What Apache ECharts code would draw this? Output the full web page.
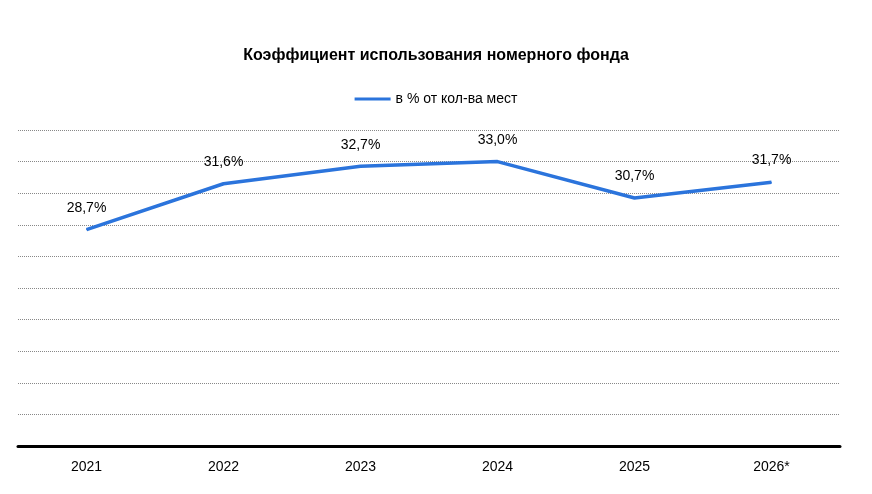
<!DOCTYPE html>
<html>
<head>
<meta charset="utf-8">
<script src="https://cdn.jsdelivr.net/npm/echarts@6/dist/echarts.min.js"></script>
<style>html,body{margin:0;padding:0;background:#fff}#main{width:872px;height:494px}</style>
</head>
<body>
<div id="main"></div>
<script>
var categories = ['2021', '2022', '2023', '2024', '2025', '2026*'];
var occupancy = [28.7, 31.6, 32.7, 33.0, 30.7, 31.7];
var seriesName = 'в % от кол-ва мест';
var fontFam = "'Liberation Sans Narrow', 'Arial Narrow', 'Liberation Sans', sans-serif";

var chart = echarts.init(document.getElementById('main'));
chart.setOption({
	animation: false,
	textStyle: { fontFamily: fontFam },
	title: {
		text: 'Коэффициент использования номерного фонда',
		left: 'center',
		top: 43,
		textStyle: { fontFamily: fontFam, fontSize: 16, fontWeight: 'bold', color: '#000' }
	},
	legend: {
		top: 87,
		left: 'center',
		itemWidth: 36,
		itemHeight: 3,
		icon: 'rect',
		itemGap: 4,
		textStyle: { fontFamily: fontFam, fontSize: 14, color: '#000' },
		data: [seriesName]
	},
	grid: { left: 18, right: 32, top: 130, bottom: 48 },
	xAxis: {
		type: 'category',
		data: categories,
		axisLine: { lineStyle: { color: '#000', width: 3 } },
		axisTick: { show: false },
		axisLabel: { fontFamily: fontFam, fontSize: 14, color: '#000', margin: 14 }
	},
	yAxis: {
		type: 'value',
		min: 15,
		max: 35,
		interval: 2,
		axisLabel: { show: false },
		axisLine: { show: false },
		axisTick: { show: false },
		splitLine: { lineStyle: { color: '#888', type: 'dotted', width: 1 } }
	},
	series: [{
		name: seriesName,
		type: 'line',
		data: occupancy,
		symbol: 'circle',
		symbolSize: 1,
		showSymbol: true,
		lineStyle: { color: '#2b74dc', width: 3.5 },
		itemStyle: { color: '#2b74dc' },
		label: {
			show: true,
			position: 'top',
			distance: 14,
			fontFamily: fontFam,
			fontSize: 14,
			color: '#000',
			formatter: function (p) { return p.value.toFixed(1).replace('.', ',') + '%'; }
		}
	}]
});
</script>
</body>
</html>
